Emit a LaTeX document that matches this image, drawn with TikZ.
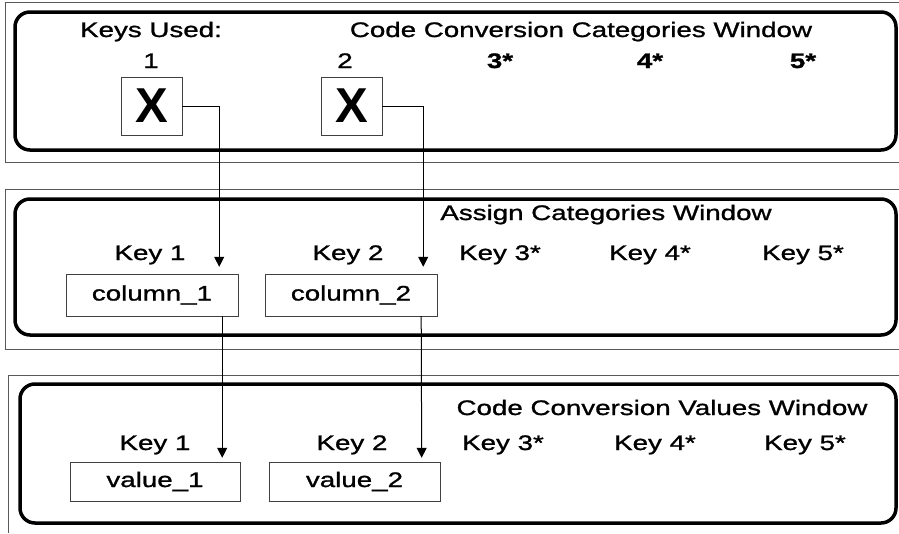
\documentclass[tikz,border=0pt]{standalone}
\usepackage{fontspec}
\setmainfont[FakeStretch=1.32,FakeBold=1.2]{Liberation Sans}
\newfontfamily\xfont{Liberation Sans}
\usetikzlibrary{arrows.meta}

\begin{document}
\begin{tikzpicture}[x=1pt,y=-1pt]
    \tikzstyle{txt}=[inner sep=0pt,anchor=base,font=\fontsize{21}{22}\selectfont]
    \tikzstyle{txtbold}=[txt,font=\fontsize{21}{22}\selectfont\bfseries]
    \tikzstyle{xbox}=[draw=black!75,minimum width=61pt,minimum height=58pt,inner sep=0pt,font=\xfont\fontsize{49}{49}\selectfont\bfseries]
    \tikzstyle{field}=[draw=black!75,minimum width=172pt,minimum height=42pt,inner sep=0pt,font=\fontsize{21}{22}\selectfont]
    \tikzstyle{frame}=[draw=black!65,line width=1pt]
    \tikzstyle{window}=[draw,line width=3.5pt,rounded corners=15pt]
    \tikzstyle{link}=[draw,line width=1pt]
    \tikzstyle{arrow}=[link,-{Triangle[width=10pt,length=10pt]}]

    \useasboundingbox (0,0) rectangle (899,533);

    % panels
    \path[frame] (899,2) -| (5,162) -- (899,162);
    \path[window] (15,12) rectangle (896,150);
    \path[frame] (899,189) -| (5,349) -- (899,349);
    \path[window] (15,199) rectangle (896,335);
    \path[frame] (899,375) -| (8,533);
    \path[window] (20,384) rectangle (896,523);

    % code conversion categories window
    \node[txt] (used) at (151,37) {Keys Used:};
    \node[txt] (t1) at (581,37) {Code Conversion Categories Window};
    \node[txt] (n1) at (151,68) {1};
    \node[txt] (n2) at (345,68) {2};
    \node[txtbold] (n3) at (500,68) {3*};
    \node[txtbold] (n4) at (650,68) {4*};
    \node[txtbold] (n5) at (803,68) {5*};
    \node[xbox] (x1) at (151.5,106) {X};
    \node[xbox] (x2) at (351.5,106) {X};

    % assign categories window
    \node[txt] (t2) at (606,220) {Assign Categories Window};
    \node[txt] (a1) at (150,260) {Key 1};
    \node[txt] (a2) at (348,260) {Key 2};
    \node[txt] (a3) at (500,260) {Key 3*};
    \node[txt] (a4) at (650,260) {Key 4*};
    \node[txt] (a5) at (803,260) {Key 5*};
    \node[field] (c1) at (152,295) {column\_1};
    \node[field] (c2) at (351,295) {column\_2};

    % code conversion values window
    \node[txt] (t3) at (662,415) {Code Conversion Values Window};
    \node[txt] (b1) at (155,450) {Key 1};
    \node[txt] (b2) at (352,450) {Key 2};
    \node[txt] (b3) at (503,450) {Key 3*};
    \node[txt] (b4) at (655,450) {Key 4*};
    \node[txt] (b5) at (805,450) {Key 5*};
    \node[field,minimum width=170pt,minimum height=39pt] (v1) at (155,481.5) {value\_1};
    \node[field,minimum width=171pt,minimum height=39pt] (v2) at (354.5,481.5) {value\_2};

    \path[arrow,shorten >=7pt] (x1.east) -| ([xshift=-19pt]c1.north east);
    \path[arrow,shorten >=7pt] (x2.east) -| ([xshift=-14pt]c2.north east);
    \path[arrow,shorten >=4pt] ([xshift=-16pt]c1.south east) -- ([xshift=-18pt]v1.north east);
    \path[arrow,shorten >=4pt] ([xshift=-16pt]c2.south east) -- ([xshift=-18.5pt]v2.north east);
\end{tikzpicture}
\end{document}
